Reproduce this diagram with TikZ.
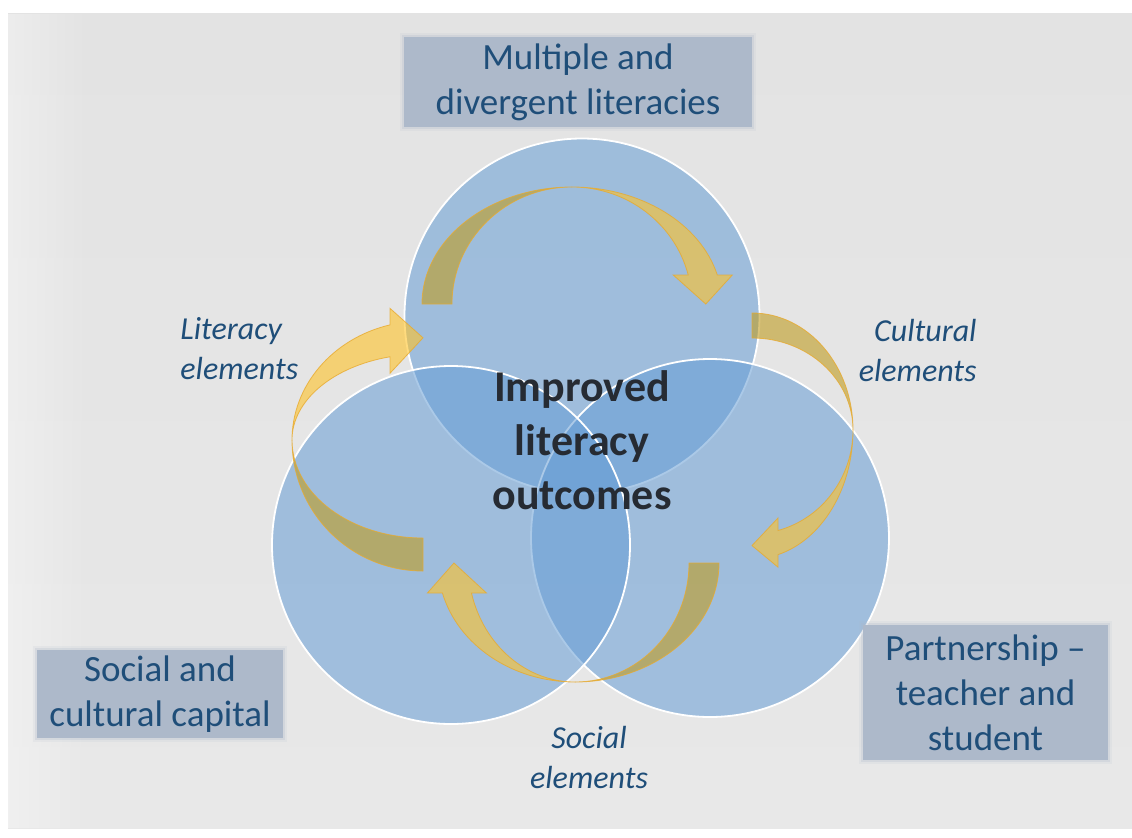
\documentclass[tikz,border=0pt]{standalone}
\usepackage{fontspec}
\setmainfont{Carlito}
\usetikzlibrary{fadings}
\tikzset{>=latex}
\definecolor{bgtop}{RGB}{227,227,227}
\definecolor{bgmid}{RGB}{215,215,215}
\definecolor{bgbottom}{RGB}{232,232,232}
\definecolor{boxfill}{RGB}{173,185,202}
\definecolor{labelblue}{RGB}{31,78,121}
\definecolor{centretext}{RGB}{38,43,51}
\definecolor{bubbleblue}{RGB}{102,157,213}
\definecolor{goldfront}{RGB}{255,195,40}
\definecolor{goldback}{RGB}{192,156,33}
\definecolor{goldline}{RGB}{232,170,46}
\tikzfading[name=edgefade, left color=transparent!65, right color=transparent!100]

\tikzset{
  bubble/.style={fill=bubbleblue, fill opacity=.55, draw=white, line width=.9pt},
  backband/.style={fill=goldback, fill opacity=.6, draw=goldline, draw opacity=.8, line width=.4pt},
  frontband/.style={fill=goldfront, fill opacity=.6, draw=goldline, draw opacity=.8, line width=.4pt},
  topicbox/.style={fill=boxfill, text=labelblue, align=center, inner sep=0pt,
    font=\fontsize{18.5}{22.5}\selectfont,
    preaction={draw=boxfill, draw opacity=.12, line width=4pt},
    preaction={draw=boxfill, draw opacity=.25, line width=2pt}},
  linklabel/.style={text=labelblue, inner sep=0pt, font=\fontsize{16}{20}\selectfont\itshape}
}

% #1 back radius, #2 front radius, #3 bulge, #4 band width, #5 head base
\newcommand{\curvedarrow}[5]{%
  \pgfmathsetmacro{\hb}{asin(#5/#3)}
  \pgfmathsetmacro{\fx}{#2*cos(\hb)}
  \pgfmathsetmacro{\ix}{(#2-#4)*cos(\hb)}
  \path[backband] (-#1,0) arc[start angle=180, end angle=90, x radius=#1, y radius=#3]
    arc[start angle=90, end angle=180, x radius=#1-#4, y radius=#3] -- cycle;
  \path[frontband] (0,#3) arc[start angle=90, end angle=\hb, x radius=#2, y radius=#3]
    -- ++(0.5*#4,0) -- ({(\fx+\ix)/2+3},0) -- ({\ix-0.5*#4},#5) -- (\ix,#5)
    arc[start angle=\hb, end angle=90, x radius=#2-#4, y radius=#3] -- cycle;
}

\begin{document}
\begin{tikzpicture}[x=0.5pt, y=-0.5pt]
  \useasboundingbox (0,0) rectangle (1132,837);
  \fill[top color=bgtop, middle color=bgmid, bottom color=bgbottom] (8,13) rectangle (1132,828);
  \fill[white, path fading=edgefade] (8,13) rectangle (90,828);

  \foreach \cx/\cy/\r/\nm in {582/316/177.5/ctop, 710/538/179/cright, 451/545/179/cleft}{
    \coordinate (\nm) at (\cx,\cy);
    \path[bubble] (\nm) circle[radius=\r];
  }

  \foreach \sx/\sy/\rot/\ab/\af/\hh/\tw/\hd in {572/304/0/150/150/117/30/29,
      752/430/-90/117/129/101/25/26, 575/563/180/144/137/119/30/30, 423/440/90/131/119/131/33/33}{
    \begin{scope}[shift={(\sx,\sy)}, rotate=\rot, yscale=-1]
      \curvedarrow{\ab}{\af}{\hh}{\tw}{\hd}
    \end{scope}
  }

  \node[topicbox, minimum width=174pt, minimum height=45pt] (multiple) at (578,82)
    {Multiple and\\divergent literacies};
  \node[topicbox, minimum width=123pt, minimum height=44pt] (capital) at (160,694)
    {Social and\\cultural capital};
  \node[topicbox, minimum width=122.5pt, minimum height=67.5pt] (partner) at (985.5,692.5)
    {Partnership --\\teacher and\\student};

  \node[text=centretext, align=center, inner sep=0pt, font=\fontsize{22}{27}\selectfont\bfseries]
    (outcome) at (582,440) {Improved\\literacy\\outcomes};

  \node[linklabel, anchor=west, align=left] (litlabel) at (180,349) {Literacy\\elements};
  \node[linklabel, anchor=east, align=right] (cultlabel) at (977,350) {Cultural\\elements};
  \node[linklabel, align=center] (soclabel) at (589,757) {Social\\elements};
\end{tikzpicture}
\end{document}
